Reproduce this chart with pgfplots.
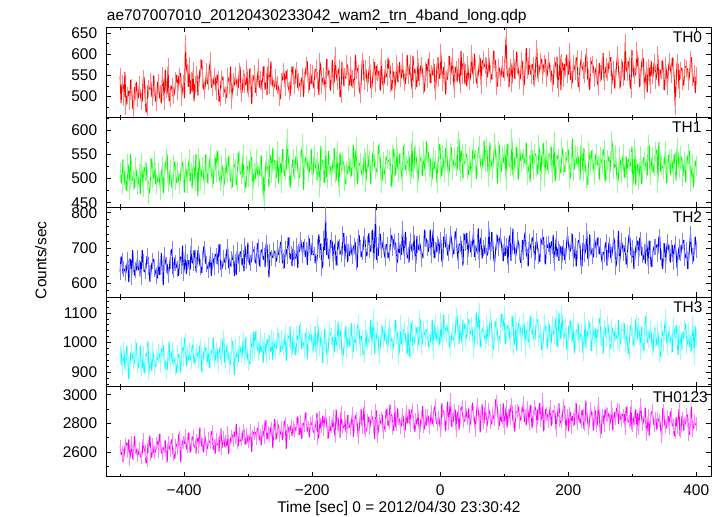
\documentclass[border=0pt]{standalone}
\usepackage{fontspec}
\setmainfont{Liberation Sans}
\usepackage{pgfplots}
\usepackage{pgfplotstable}
\pgfplotsset{compat=1.18}
\definecolor{cR}{RGB}{255,0,0}
\definecolor{cG}{RGB}{0,255,0}
\definecolor{cB}{RGB}{0,0,255}
\definecolor{cC}{RGB}{0,255,255}
\definecolor{cM}{RGB}{255,0,255}
\definecolor{lR}{RGB}{255,130,130}
\definecolor{lG}{RGB}{140,255,140}
\definecolor{lB}{RGB}{130,130,255}
\definecolor{lC}{RGB}{140,255,255}
\definecolor{lM}{RGB}{255,130,255}
\pgfplotstableread{
t a b c d e
-500 548 512 633 958 2640
-498.5 484 507 676 975 2581
-497 531 488 662 921 2598
-495.5 527 540 627 938 2531
-494 497 519 641 976 2571
-492.5 558 487 635 912 2637
-491 478 496 628 934 2652
-489.5 501 475 650 991 2665
-488 502 531 667 952 2603
-486.5 513 521 603 876 2688
-485 489 477 650 911 2548
-483.5 539 551 668 965 2598
-482 521 509 619 967 2667
-480.5 474 496 694 952 2548
-479 468 498 655 938 2589
-477.5 522 480 622 928 2710
-476 512 524 637 983 2634
-474.5 534 514 637 998 2609
-473 495 486 671 927 2577
-471.5 498 491 637 915 2581
-470 527 509 642 949 2625
-468.5 507 468 661 990 2571
-467 489 531 618 916 2562
-465.5 488 512 695 914 2588
-464 541 482 659 961 2689
-462.5 546 524 632 897 2621
-461 503 515 634 925 2601
-459.5 462 533 645 963 2520
-458 474 497 677 957 2543
-456.5 526 496 674 1006 2660
-455 519 468 645 902 2637
-453.5 517 475 604 927 2716
-452 536 524 628 943 2584
-450.5 500 542 656 904 2560
-449 498 501 663 974 2648
-447.5 550 501 669 953 2593
-446 521 536 641 919 2597
-444.5 490 489 630 920 2602
-443 486 489 620 950 2661
-441.5 534 497 614 943 2677
-440 532 512 669 965 2606
-438.5 496 498 624 961 2726
-437 507 477 645 928 2678
-435.5 484 512 686 978 2591
-434 549 526 630 982 2591
-432.5 532 470 595 991 2619
-431 488 503 681 941 2637
-429.5 563 528 666 938 2681
-428 516 540 652 906 2570
-426.5 505 551 655 908 2530
-425 571 493 624 957 2665
-423.5 489 486 637 1004 2642
-422 495 518 664 936 2612
-420.5 525 500 692 945 2670
-419 523 481 697 973 2689
-417.5 501 493 627 928 2586
-416 502 529 639 948 2583
-414.5 517 535 673 935 2552
-413 538 498 658 921 2647
-411.5 551 491 645 898 2653
-410 512 516 641 962 2624
-408.5 547 496 621 959 2723
-407 547 488 676 934 2701
-405.5 556 508 673 899 2527
-404 499 534 649 985 2616
-402.5 518 533 707 982 2679
-401 531 507 628 947 2668
-399.5 496 471 645 1015 2656
-398 625 523 688 1003 2712
-396.5 566 517 626 922 2617
-395 556 491 661 958 2637
-393.5 523 528 665 942 2735
-392 574 541 642 972 2684
-390.5 506 494 639 947 2595
-389 538 512 707 940 2655
-387.5 511 480 658 992 2695
-386 561 528 657 991 2709
-384.5 489 522 694 929 2634
-383 529 496 672 951 2642
-381.5 535 551 634 939 2589
-380 552 519 651 967 2681
-378.5 502 464 694 955 2699
-377 528 543 684 941 2633
-375.5 562 526 652 991 2772
-374 567 497 645 982 2706
-372.5 586 517 629 902 2638
-371 541 524 670 928 2652
-369.5 518 500 704 968 2598
-368 515 488 698 973 2721
-366.5 533 549 657 984 2682
-365 559 531 655 955 2618
-363.5 529 491 644 935 2626
-362 537 509 639 990 2690
-360.5 569 533 650 915 2666
-359 584 546 681 939 2667
-357.5 523 507 621 975 2744
-356 521 502 663 968 2742
-354.5 530 489 670 1017 2615
-353 548 529 647 947 2641
-351.5 545 544 683 938 2587
-350 512 514 677 974 2688
-348.5 552 558 685 980 2653
-347 539 537 652 932 2655
-345.5 487 503 711 967 2603
-344 498 496 690 985 2712
-342.5 535 487 639 943 2765
-341 541 528 641 951 2627
-339.5 547 521 654 1013 2664
-338 519 485 673 1012 2699
-336.5 511 498 659 930 2636
-335 503 542 659 944 2672
-333.5 497 514 693 990 2641
-332 546 511 703 971 2734
-330.5 540 547 644 953 2586
-329 527 524 648 926 2645
-327.5 571 494 652 927 2692
-326 491 499 668 989 2710
-324.5 514 482 667 1006 2720
-323 534 532 685 957 2683
-321.5 526 528 620 891 2743
-320 549 521 661 983 2705
-318.5 537 487 624 957 2796
-317 522 496 693 947 2668
-315.5 520 554 676 934 2640
-314 558 537 654 992 2731
-312.5 570 513 689 983 2673
-311 507 509 689 961 2685
-309.5 510 501 650 950 2680
-308 541 548 671 1008 2752
-306.5 554 506 634 973 2757
-305 528 491 707 955 2694
-303.5 527 480 681 1020 2651
-302 566 526 662 979 2723
-300.5 508 524 715 944 2668
-299 519 503 681 934 2671
-297.5 566 536 652 927 2701
-296 547 539 658 1001 2748
-294.5 482 545 665 993 2600
-293 531 474 697 966 2709
-291.5 546 508 694 1036 2740
-290 553 512 684 975 2732
-288.5 509 499 659 1038 2737
-287 521 541 655 1012 2698
-285.5 545 513 714 979 2765
-284 568 503 702 968 2763
-282.5 521 510 649 962 2681
-281 539 527 669 1021 2711
-279.5 537 548 695 969 2647
-278 515 488 694 985 2745
-276.5 571 504 667 932 2748
-275 552 454 677 1003 2702
-273.5 516 511 646 995 2821
-272 534 536 713 957 2776
-270.5 504 525 708 1012 2686
-269 571 519 660 994 2734
-267.5 552 483 617 1025 2714
-266 526 549 688 972 2719
-264.5 583 541 688 972 2776
-263 548 511 671 1015 2761
-261.5 525 564 677 942 2625
-260 519 537 693 1008 2752
-258.5 528 538 688 982 2830
-257 545 502 668 975 2728
-255.5 516 504 662 987 2690
-254 527 558 701 1024 2779
-252.5 521 490 681 1032 2790
-251 498 524 681 987 2714
-249.5 494 532 717 969 2729
-248 536 491 715 1012 2768
-246.5 540 561 657 979 2684
-245 559 541 664 983 2741
-243.5 552 506 644 999 2818
-242 521 517 697 1031 2795
-240.5 561 518 696 939 2622
-239 544 583 676 998 2752
-237.5 523 543 730 1022 2774
-236 513 526 709 1016 2733
-234.5 501 481 668 1055 2751
-233 538 509 684 979 2787
-231.5 571 527 649 962 2712
-230 552 541 698 1018 2772
-228.5 530 504 667 977 2731
-227 527 518 671 986 2748
-225.5 566 546 672 957 2771
-224 561 546 706 1027 2791
-222.5 520 520 644 1017 2849
-221 534 503 688 995 2763
-219.5 527 502 693 1059 2720
-218 519 537 724 1041 2812
-216.5 542 557 706 980 2692
-215 548 571 679 1003 2755
-213.5 499 477 717 997 2804
-212 538 522 702 976 2789
-210.5 559 539 675 1033 2877
-209 573 548 694 1022 2824
-207.5 583 530 652 944 2743
-206 529 514 715 1009 2771
-204.5 515 513 727 1010 2703
-203 556 539 686 1034 2798
-201.5 530 562 680 1026 2787
-200 554 507 714 994 2811
-198.5 528 508 682 970 2746
-197 519 549 680 1022 2733
-195.5 564 531 682 1053 2774
-194 565 520 656 966 2796
-192.5 552 497 667 983 2875
-191 538 535 702 1059 2692
-189.5 504 513 739 1007 2713
-188 582 482 695 984 2842
-186.5 569 568 713 1020 2763
-185 527 539 642 1009 2780
-183.5 543 538 648 931 2853
-182 547 511 726 972 2759
-180.5 531 492 695 1046 2830
-179 510 568 795 1025 2853
-177.5 588 504 680 967 2802
-176 569 501 707 953 2738
-174.5 557 557 672 993 2696
-173 541 528 668 1037 2806
-171.5 514 524 721 1030 2746
-170 555 505 724 1021 2780
-168.5 586 522 716 1018 2773
-167 526 539 659 980 2847
-165.5 536 563 703 969 2740
-164 596 511 714 1048 2707
-162.5 553 496 651 992 2896
-161 537 556 673 993 2795
-159.5 562 517 721 1071 2840
-158 566 482 702 1005 2748
-156.5 498 554 692 1028 2700
-155 506 528 683 1042 2878
-153.5 582 545 679 962 2801
-152 561 535 741 952 2774
-150.5 524 533 742 979 2768
-149 546 495 669 1014 2837
-147.5 543 489 708 1055 2751
-146 577 516 712 977 2728
-144.5 570 510 661 1008 2857
-143 533 545 690 1024 2811
-141.5 526 515 677 985 2773
-140 572 522 714 1022 2764
-138.5 524 505 687 1066 2817
-137 541 541 678 973 2868
-135.5 540 570 705 970 2705
-134 519 503 707 1038 2795
-132.5 598 547 716 1000 2856
-131 561 566 659 1001 2831
-129.5 567 489 645 1053 2794
-128 554 515 729 1063 2701
-126.5 519 531 736 1040 2766
-125 506 532 700 985 2842
-123.5 531 517 674 1023 2901
-122 583 507 690 1013 2774
-120.5 586 510 695 960 2828
-119 537 543 734 960 2914
-117.5 552 554 723 990 2727
-116 565 494 681 1044 2748
-114.5 536 519 677 984 2761
-113 530 551 712 1004 2816
-111.5 560 523 742 1007 2845
-110 576 539 695 1024 2763
-108.5 521 489 690 1078 2821
-107 517 511 726 984 2846
-105.5 543 551 752 1045 2844
-104 568 557 662 1083 2779
-102.5 581 526 718 962 2692
-101 530 520 792 999 2888
-99.5 572 514 666 1022 2888
-98 557 528 681 1040 2706
-96.5 560 569 679 1002 2754
-95 539 553 741 956 2820
-93.5 514 540 739 992 2799
-92 592 492 693 1034 2836
-90.5 536 498 703 1055 2860
-89 526 534 722 1012 2737
-87.5 531 512 684 1005 2760
-86 565 509 671 1055 2789
-84.5 548 546 710 1011 2900
-83 546 541 710 993 2862
-81.5 591 535 671 985 2782
-80 565 538 685 1049 2810
-78.5 574 544 694 1051 2932
-77 532 505 733 1006 2856
-75.5 514 482 736 1015 2859
-74 559 549 700 975 2763
-72.5 557 562 725 998 2747
-71 515 524 716 1034 2919
-69.5 542 507 712 1077 2775
-68 578 566 656 1024 2794
-66.5 535 525 663 1035 2904
-65 552 513 721 956 2836
-63.5 581 551 686 975 2826
-62 543 532 690 1065 2773
-60.5 545 509 681 995 2786
-59 583 496 755 999 2862
-57.5 549 567 699 1044 2842
-56 534 553 678 1040 2742
-54.5 530 518 746 1028 2758
-53 563 526 709 990 2882
-51.5 598 535 671 962 2798
-50 549 537 681 1059 2851
-48.5 551 547 661 953 2898
-47 577 510 720 975 2783
-45.5 539 501 708 1068 2875
-44 518 577 689 1047 2898
-42.5 596 513 693 989 2847
-41 555 520 739 994 2804
-39.5 565 566 685 1015 2741
-38 535 548 655 1031 2825
-36.5 522 533 734 1052 2791
-35 590 491 708 1006 2887
-33.5 536 517 695 992 2791
-32 546 544 715 1081 2737
-30.5 572 540 700 1075 2819
-29 573 529 669 988 2841
-27.5 560 506 680 1005 2920
-26 527 558 693 1044 2778
-24.5 512 522 752 1029 2758
-23 562 516 727 1016 2856
-21.5 577 577 726 1042 2785
-20 540 554 700 1047 2856
-18.5 589 554 689 985 2846
-17 584 525 722 1000 2773
-15.5 531 542 752 1002 2813
-14 553 504 679 1037 2882
-12.5 550 498 718 1078 2796
-11 568 544 751 975 2819
-9.5 577 519 671 1031 2902
-8 513 537 693 1065 2923
-6.5 533 524 687 1008 2818
-5 573 491 712 1028 2793
-3.5 593 531 726 1041 2826
-2 544 565 683 1016 2840
-0.5 543 572 713 992 2785
1 603 520 724 1071 2752
2.5 560 505 661 1015 2941
4 533 548 669 1003 2892
5.5 569 526 731 1094 2885
7 562 514 734 1044 2825
8.5 505 563 702 1051 2745
10 540 562 717 1029 2866
11.5 541 528 679 1048 2951
13 575 505 686 1069 2798
14.5 596 521 700 985 2878
16 547 554 739 985 2964
17.5 562 565 728 1015 2777
19 593 518 695 1038 2824
20.5 546 530 682 1009 2811
22 516 543 705 1010 2892
23.5 570 530 747 1032 2895
25 564 526 734 1088 2751
26.5 534 516 692 1091 2867
28 571 577 664 1026 2881
29.5 550 581 710 995 2755
31 529 514 712 1063 2845
32.5 608 558 721 1025 2906
34 551 552 683 998 2918
35.5 577 500 650 1078 2844
37 582 533 719 1047 2814
38.5 529 534 741 1065 2816
40 556 551 714 1016 2907
41.5 524 550 743 1015 2844
43 575 519 675 1078 2834
44.5 546 508 707 1078 2905
46 536 544 726 1035 2782
47.5 549 522 688 1028 2805
49 602 502 697 1057 2881
50.5 558 556 714 1034 2945
52 549 563 745 979 2865
53.5 601 545 675 1008 2827
55 567 538 685 1063 2751
56.5 531 499 694 1101 2866
58 540 530 706 1022 2933
59.5 553 561 756 1068 2889
61 578 567 666 1106 2824
62.5 591 536 722 985 2737
64 527 521 730 1007 2891
65.5 582 524 670 1045 2933
67 586 549 699 1047 2808
68.5 570 579 683 1025 2799
70 573 534 709 1010 2917
71.5 591 559 686 995 2861
73 544 561 678 1060 2777
74.5 555 517 686 1015 2821
76 593 504 755 1019 2897
77.5 559 575 699 1064 2877
79 553 540 690 1085 2808
80.5 540 526 746 1048 2793
82 562 521 721 976 2871
83.5 608 543 671 982 2833
85 588 574 656 1044 2829
86.5 584 552 694 1071 2967
88 525 532 716 1054 2954
89.5 524 490 736 1035 2894
91 569 557 700 995 2798
92.5 567 570 725 1018 2782
94 542 513 733 1026 2891
95.5 552 515 712 1097 2810
97 575 546 685 1069 2845
98.5 545 533 663 1055 2939
100 558 550 712 1095 2767
101.5 596 551 677 996 2849
103 641 497 705 1020 2917
104.5 553 572 705 1059 2771
106 547 554 652 1045 2855
107.5 522 528 726 1049 2900
109 567 526 736 1008 2834
110.5 579 516 664 1029 2928
112 530 583 686 1061 2928
113.5 567 507 755 1089 2816
115 589 516 717 989 2813
116.5 541 544 684 1006 2743
118 561 543 678 1073 2881
119.5 606 565 695 973 2877
121 574 522 724 1030 2886
122.5 558 498 713 1066 2917
124 539 564 690 1058 2808
125.5 546 539 658 1046 2833
127 585 535 666 1002 2871
128.5 582 551 723 1040 2889
130 523 541 688 1072 2948
131.5 531 532 734 1055 2810
133 578 548 746 982 2844
134.5 615 574 682 1038 2787
136 563 508 674 1044 2907
137.5 551 516 648 1002 2877
139 594 529 717 1007 2798
140.5 560 493 710 1091 2927
142 550 558 695 1054 2881
143.5 577 558 729 1025 2765
145 572 518 729 1051 2850
146.5 527 544 690 1009 2866
148 543 552 664 1010 2917
149.5 587 549 716 1058 2894
151 613 524 719 1078 2777
152.5 543 509 697 1078 2901
154 554 569 678 1023 2865
155.5 570 553 661 1018 2944
157 583 495 707 1035 2818
158.5 589 546 721 976 2838
160 550 552 732 982 2964
161.5 573 574 729 1025 2744
163 578 503 679 1066 2798
164.5 589 528 654 1049 2900
166 543 560 710 1026 2866
167.5 553 517 701 979 2861
169 585 531 712 1044 2814
170.5 577 551 714 1062 2867
172 554 550 676 995 2918
173.5 561 565 719 1002 2783
175 532 512 705 1060 2845
176.5 527 523 737 1039 2889
178 574 575 657 1023 2881
179.5 582 494 688 1065 2872
181 567 524 727 1085 2751
182.5 594 549 675 986 2839
184 519 541 698 1007 2892
185.5 546 537 664 1101 2940
187 596 516 688 1035 2824
188.5 515 512 706 1012 2800
190 581 564 659 1098 2814
191.5 577 556 705 1050 2884
193 543 527 699 1014 2923
194.5 577 514 666 1027 2918
196 570 535 678 1055 2741
197.5 599 540 715 980 2817
199 552 560 738 971 2855
200.5 553 558 707 1056 2744
202 605 499 690 1049 2871
203.5 541 503 692 1073 2879
205 539 541 719 1027 2772
206.5 532 583 739 1007 2851
208 578 516 668 1070 2824
209.5 570 521 674 964 2789
211 559 548 707 1008 2897
212.5 592 530 648 1043 2940
214 589 546 692 1039 2798
215.5 522 547 720 1066 2828
217 530 518 723 999 2881
218.5 571 498 705 1017 2800
220 588 569 649 1034 2814
221.5 572 551 648 1015 2896
223 562 516 714 966 2856
224.5 557 563 711 998 2762
226 553 535 683 1075 2793
227.5 600 517 698 985 2958
229 593 499 748 1009 2882
230.5 540 487 669 1038 2806
232 544 556 671 1050 2762
233.5 516 542 739 1068 2829
235 573 529 702 1000 2902
236.5 584 558 687 972 2868
238 575 541 678 1059 2830
239.5 569 524 674 1031 2750
241 542 508 726 1016 2876
242.5 562 547 713 1048 2890
244 569 552 693 985 2783
245.5 533 531 729 1041 2790
247 525 527 709 1044 2939
248.5 579 498 682 1078 2851
250 555 545 705 1084 2747
251.5 538 539 677 995 2723
253 582 530 659 991 2851
254.5 603 560 688 962 2857
256 536 559 683 1047 2788
257.5 555 493 706 1055 2897
259 571 517 717 1019 2866
260.5 543 534 651 1035 2813
262 558 538 671 1062 2861
263.5 579 546 716 1029 2869
265 586 511 710 978 2793
266.5 593 541 670 985 2829
268 527 578 679 1050 2908
269.5 550 567 698 1048 2751
271 564 521 729 997 2814
272.5 519 523 719 1038 2880
274 544 549 645 1034 2835
275.5 576 511 657 1018 2908
277 599 492 698 1009 2897
278.5 564 502 748 1078 2796
280 538 545 656 997 2887
281.5 522 537 682 996 2836
283 567 511 721 1038 2820
284.5 582 537 708 1045 2864
286 545 551 687 1041 2851
287.5 538 502 689 1065 2864
289 628 522 709 994 2768
290.5 565 546 653 1005 2914
292 558 501 666 1031 2877
293.5 584 539 713 963 2808
295 573 541 738 969 2814
296.5 526 525 726 1042 2780
298 518 534 680 1059 2918
299.5 610 567 674 1025 2757
301 578 488 699 1022 2788
302.5 546 509 640 989 2847
304 549 562 670 1010 2835
305.5 555 486 702 1078 2897
307 608 517 711 1065 2747
308.5 572 531 721 1012 2871
310 573 498 671 1054 2768
311.5 522 518 729 1027 2859
313 545 547 724 970 2934
314.5 577 489 680 1053 2842
316 591 511 680 1023 2794
317.5 589 544 667 974 2809
319 514 536 690 995 2862
320.5 541 532 656 1089 2910
322 562 519 719 1073 2721
323.5 510 507 698 1000 2770
325 569 570 649 1011 2851
326.5 568 569 721 1013 2714
328 527 507 697 1048 2815
329.5 584 523 646 1037 2870
331 549 545 668 983 2888
332.5 548 512 693 967 2837
334 580 526 704 1032 2784
335.5 572 546 706 1050 2830
337 538 555 702 1014 2836
338.5 556 560 710 990 2753
340 598 492 683 1037 2836
341.5 525 576 732 995 2816
343 545 553 731 959 2820
344.5 563 514 667 952 2754
346 563 528 671 1043 2706
347.5 585 523 641 1031 2905
349 536 520 692 1002 2888
350.5 515 540 713 1054 2793
352 574 557 652 1086 2779
353.5 558 491 698 1005 2765
355 523 511 716 987 2846
356.5 570 549 703 1038 2849
358 582 539 685 1027 2763
359.5 566 507 659 1015 2883
361 552 541 700 996 2862
362.5 592 533 708 968 2782
364 571 509 661 1058 2789
365.5 546 551 700 1044 2709
367 478 534 712 1015 2737
368.5 534 496 685 1061 2844
370 581 564 642 1021 2774
371.5 577 553 680 959 2828
373 518 522 702 1031 2899
374.5 562 519 667 1018 2710
376 562 547 686 972 2743
377.5 568 542 706 1035 2850
379 535 503 719 1003 2836
380.5 526 526 722 1035 2750
382 568 536 671 1046 2790
383.5 572 493 675 1065 2811
385 566 524 695 987 2862
386.5 565 546 641 1002 2856
388 537 551 664 1037 2722
389.5 550 558 704 985 2722
391 586 494 741 996 2842
392.5 593 512 691 972 2918
394 546 530 676 1062 2753
395.5 533 482 662 1029 2766
397 555 511 707 953 2816
398.5 509 537 732 1055 2789
400 549 526 693 1018 2795
}\lcdata

\begin{document}
\begin{tikzpicture}[font=\fontsize{11.6}{13.9}\selectfont]
\useasboundingbox (-80pt,-29.5pt) rectangle (460.7pt,357.5pt);
\pgfplotsset{
  panel/.style={
    width=453.2pt, height=67.38pt, scale only axis,
    xmin=-521, xmax=423,
    xtick={-400,-200,0,200,400},
    minor xtick={-500,-300,-100,100,300},
    tick align=inside, tick pos=both,
    major tick length=3.5pt, minor tick length=2pt,
    tick style={black, line width=0.6pt},
    axis line style={line width=0.75pt},
    /pgf/number format/assume math mode=true,
    tick label style={font=\fontsize{11.6}{13.9}\selectfont},
    yticklabel style={xshift=-3.6pt},
    xticklabel style={yshift=-2.7pt},
    anchor=south west,
    clip=true,
  },
  ebar/.style={only marks, mark=|, mark size=#1, mark options={line width=0.7pt}, each nth point=2},
  dataline/.style={line width=0.72pt, mark=none, line join=bevel},
}
% TH0
\begin{axis}[panel, name=p1, at={(0pt,269.52pt)}, ymin=451, ymax=663,
  ytick={500,550,600,650}, yticklabels={500,550,600,650},
  minor ytick={475,525,575,625}, xticklabels={}]
\addplot[lR, ebar=6.5pt] table[x=t, y=a] {\lcdata};
\addplot[cR, dataline] table[x=t, y=a] {\lcdata};
\end{axis}
% TH1
\begin{axis}[panel, name=p2, at={(0pt,202.14pt)}, ymin=441, ymax=627,
  ytick={450,500,550,600}, yticklabels={450,500,550,600},
  minor ytick={475,525,575,625}, xticklabels={}]
\addplot[lG, ebar=7.5pt] table[x=t, y=b] {\lcdata};
\addplot[cG, dataline] table[x=t, y=b] {\lcdata};
\end{axis}
% TH2
\begin{axis}[panel, name=p3, at={(0pt,134.76pt)}, ymin=561, ymax=816,
  ytick={600,700,800}, yticklabels={600,700,800},
  minor ytick={580,620,640,660,680,720,740,760,780}, xticklabels={}]
\addplot[lB, ebar=6pt] table[x=t, y=c] {\lcdata};
\addplot[cB, dataline] table[x=t, y=c] {\lcdata};
\end{axis}
% TH3
\begin{axis}[panel, name=p4, at={(0pt,67.38pt)}, ymin=851, ymax=1154,
  ytick={900,1000,1100}, yticklabels={900,1000,1100},
  minor ytick={860,880,920,940,960,980,1020,1040,1060,1080,1120,1140}, xticklabels={}]
\addplot[lC, ebar=6.5pt] table[x=t, y=d] {\lcdata};
\addplot[cC, dataline] table[x=t, y=d] {\lcdata};
\end{axis}
% TH0123
\begin{axis}[panel, name=p5, at={(0pt,0pt)}, ymin=2427, ymax=3055,
  ytick={2600,2800,3000}, yticklabels={2600,2800,3000},
  minor ytick={2500,2700,2900},
  xticklabels={−400,−200,0,200,400}]
\addplot[lM, ebar=5pt] table[x=t, y=e] {\lcdata};
\addplot[cM, dataline] table[x=t, y=e] {\lcdata};
\end{axis}
% labels
\node[anchor=north east, inner sep=0pt] at ([xshift=-6.5pt, yshift=-3.1pt]p1.north east) {TH0};
\node[anchor=north east, inner sep=0pt] at ([xshift=-7pt, yshift=-3.1pt]p2.north east) {TH1};
\node[anchor=north east, inner sep=0pt] at ([xshift=-6.5pt, yshift=-3.1pt]p3.north east) {TH2};
\node[anchor=north east, inner sep=0pt] at ([xshift=-6.2pt, yshift=-3.1pt]p4.north east) {TH3};
\node[anchor=north east, inner sep=0pt] at ([xshift=-2.2pt, yshift=-3.1pt]p5.north east) {TH0123};
\node[anchor=base west, inner sep=0pt] at ([yshift=5.25pt]p1.north west) {ae707007010\_20120430233042\_wam2\_trn\_4band\_long.qdp};
\node[rotate=90, anchor=center, inner sep=0pt] at ([xshift=-49.3pt, yshift=27.5pt]p3.south west) {Counts/sec};
\node[anchor=base, inner sep=0pt] at ([xshift=219.2pt, yshift=-26.8pt]p5.south west) {Time [sec] 0 = 2012/04/30 23:30:42};
\end{tikzpicture}
\end{document}
